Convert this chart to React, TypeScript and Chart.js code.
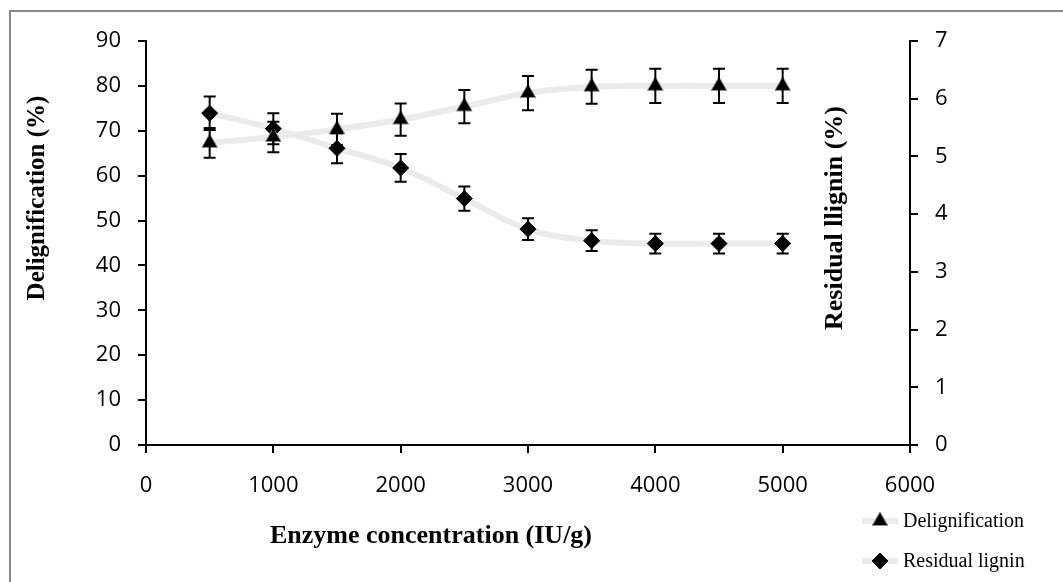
import React, { useEffect, useRef } from "react";
import { Chart, registerables } from "chart.js";

Chart.register(...registerables);

const concentrations = [500, 1000, 1500, 2000, 2500, 3000, 3500, 4000, 4500, 5000];
const delignification = [67.3, 68.6, 70.3, 72.5, 75.4, 78.4, 79.8, 80.0, 80.0, 80.0];
const delignificationErr = [3.3, 3.4, 3.5, 3.6, 3.7, 3.8, 3.8, 3.8, 3.8, 3.8];
const residualLignin = [5.75, 5.48, 5.14, 4.8, 4.27, 3.74, 3.54, 3.49, 3.49, 3.49];
const residualLigninErr = [0.29, 0.27, 0.26, 0.24, 0.21, 0.19, 0.18, 0.17, 0.17, 0.17];

const seriesLabels = ["Delignification", "Residual lignin"];
const xTitle = "Enzyme concentration (IU/g)";
const leftTitle = "Delignification (%)";
const rightTitle = "Residual llignin (%)";

const LINE_COLOR = "#ebebeb";
const TICK_FONT = { family: "'Open Sans', sans-serif", size: 22 };
const SERIF = "'Liberation Serif', 'Times New Roman', serif";
const LEGEND_FONT = "20px " + SERIF;

function drawTriangle(ctx: CanvasRenderingContext2D, x: number, y: number, r: number) {
  ctx.beginPath();
  ctx.moveTo(x, y - r);
  ctx.lineTo(x + r * Math.sin((2 * Math.PI) / 3), y - r * Math.cos((2 * Math.PI) / 3));
  ctx.lineTo(x + r * Math.sin((4 * Math.PI) / 3), y - r * Math.cos((4 * Math.PI) / 3));
  ctx.closePath();
}

function drawDiamond(ctx: CanvasRenderingContext2D, x: number, y: number, r: number) {
  ctx.beginPath();
  ctx.moveTo(x, y - r);
  ctx.lineTo(x + r, y);
  ctx.lineTo(x, y + r);
  ctx.lineTo(x - r, y);
  ctx.closePath();
}

export default function App() {
  const ref = useRef<HTMLCanvasElement>(null);

  useEffect(() => {
    if (!ref.current) return;

    const errorBars = {
      id: "errorBars",
      afterDatasetsDraw(chart: any) {
        const ctx = chart.ctx;
        const errs = [delignificationErr, residualLigninErr];
        const vals = [delignification, residualLignin];
        ctx.save();
        ctx.strokeStyle = "#000";
        ctx.lineWidth = 2;
        chart.data.datasets.forEach((ds: any, di: number) => {
          const meta = chart.getDatasetMeta(di);
          const scale = chart.scales[ds.yAxisID];
          meta.data.forEach((pt: any, i: number) => {
            const x = pt.x;
            const yt = scale.getPixelForValue(vals[di][i] + errs[di][i]);
            const yb = scale.getPixelForValue(vals[di][i] - errs[di][i]);
            ctx.beginPath();
            ctx.moveTo(x, yt);
            ctx.lineTo(x, yb);
            ctx.moveTo(x - 6, yt);
            ctx.lineTo(x + 6, yt);
            ctx.moveTo(x - 6, yb);
            ctx.lineTo(x + 6, yb);
            ctx.stroke();
          });
        });
        ctx.restore();
      },
    };

    const extras = {
      id: "extras",
      afterDraw(chart: any) {
        const ctx = chart.ctx;
        ctx.save();
        // outer border
        ctx.strokeStyle = "#8a8a8a";
        ctx.lineWidth = 2;
        ctx.strokeRect(10, 11, 1100, 620);

        // titles
        ctx.fillStyle = "#000";
        ctx.textAlign = "center";
        ctx.textBaseline = "middle";
        ctx.font = "bold 26px " + SERIF;
        ctx.fillText(xTitle, 431, 536);

        ctx.save();
        ctx.font = "bold 25px " + SERIF;
        ctx.translate(38, 198);
        ctx.rotate(-Math.PI / 2);
        ctx.fillText(leftTitle, 0, 0);
        ctx.restore();

        ctx.save();
        ctx.font = "bold 26px " + SERIF;
        ctx.translate(835, 218);
        ctx.rotate(-Math.PI / 2);
        ctx.fillText(rightTitle, 0, 0);
        ctx.restore();

        // legend
        const ys = [521, 561];
        ctx.font = LEGEND_FONT;
        ctx.textAlign = "left";
        seriesLabels.forEach((label, i) => {
          const y = ys[i];
          ctx.strokeStyle = LINE_COLOR;
          ctx.lineWidth = 6;
          ctx.beginPath();
          ctx.moveTo(862, y);
          ctx.lineTo(898, y);
          ctx.stroke();
          ctx.fillStyle = "#000";
          ctx.lineWidth = 1;
          if (i === 0) {
            ctx.strokeStyle = "#8c8c8c";
            drawTriangle(ctx, 880, y, 9);
          } else {
            ctx.strokeStyle = "#000";
            drawDiamond(ctx, 880, y, 8);
          }
          ctx.fill();
          ctx.stroke();
          ctx.fillStyle = "#000";
          ctx.fillText(label, 903, y + 1);
        });
        ctx.restore();
      },
    };

    const tickCallback = (v: any) => String(v);

    const chart = new Chart(ref.current, {
      type: "line",
      data: {
        datasets: [
          {
            label: seriesLabels[0],
            data: concentrations.map((x, i) => ({ x, y: delignification[i] })),
            yAxisID: "y",
            borderColor: LINE_COLOR,
            borderWidth: 6,
            tension: 0.4,
            pointStyle: "triangle",
            pointRadius: 9,
            pointBackgroundColor: "#000",
            pointBorderColor: "#8c8c8c",
            pointBorderWidth: 1,
          },
          {
            label: seriesLabels[1],
            data: concentrations.map((x, i) => ({ x, y: residualLignin[i] })),
            yAxisID: "y1",
            borderColor: LINE_COLOR,
            borderWidth: 6,
            tension: 0.4,
            pointStyle: "rectRot",
            pointRadius: 8,
            pointBackgroundColor: "#000",
            pointBorderColor: "#000",
            pointBorderWidth: 1,
          },
        ],
      },
      options: {
        animation: false,
        responsive: false,
        layout: { padding: { top: 41, left: 0, right: 0, bottom: 0 } },
        plugins: { legend: { display: false }, tooltip: { enabled: false } },
        scales: {
          x: {
            type: "linear",
            min: 0,
            max: 6000,
            ticks: { stepSize: 1000, font: TICK_FONT, color: "#000", padding: 20, callback: tickCallback },
            grid: { drawOnChartArea: false, color: "#000", tickLength: 8, lineWidth: 2 },
            border: { color: "#000", width: 2 },
            afterFit: (s: any) => {
              s.height = 137;
            },
          },
          y: {
            position: "left",
            min: 0,
            max: 90,
            ticks: { stepSize: 10, font: TICK_FONT, color: "#000", padding: 17, callback: tickCallback },
            grid: { drawOnChartArea: false, color: "#000", tickLength: 8, lineWidth: 2 },
            border: { color: "#000", width: 2 },
            afterFit: (s: any) => {
              s.width = 146;
            },
          },
          y1: {
            position: "right",
            min: 0,
            max: 7,
            ticks: { stepSize: 1, font: TICK_FONT, color: "#000", padding: 17, callback: tickCallback },
            grid: { drawOnChartArea: false, color: "#000", tickLength: 8, lineWidth: 2 },
            border: { color: "#000", width: 2 },
            afterFit: (s: any) => {
              s.width = 153;
            },
          },
        },
      },
      plugins: [errorBars, extras],
    } as any);

    return () => chart.destroy();
  }, []);

  return (
    <div style={{ position: "fixed", left: 0, top: 0, width: 1063, height: 582, background: "#fff" }}>
      <canvas ref={ref} width={1063} height={582} style={{ display: "block" }} />
    </div>
  );
}
